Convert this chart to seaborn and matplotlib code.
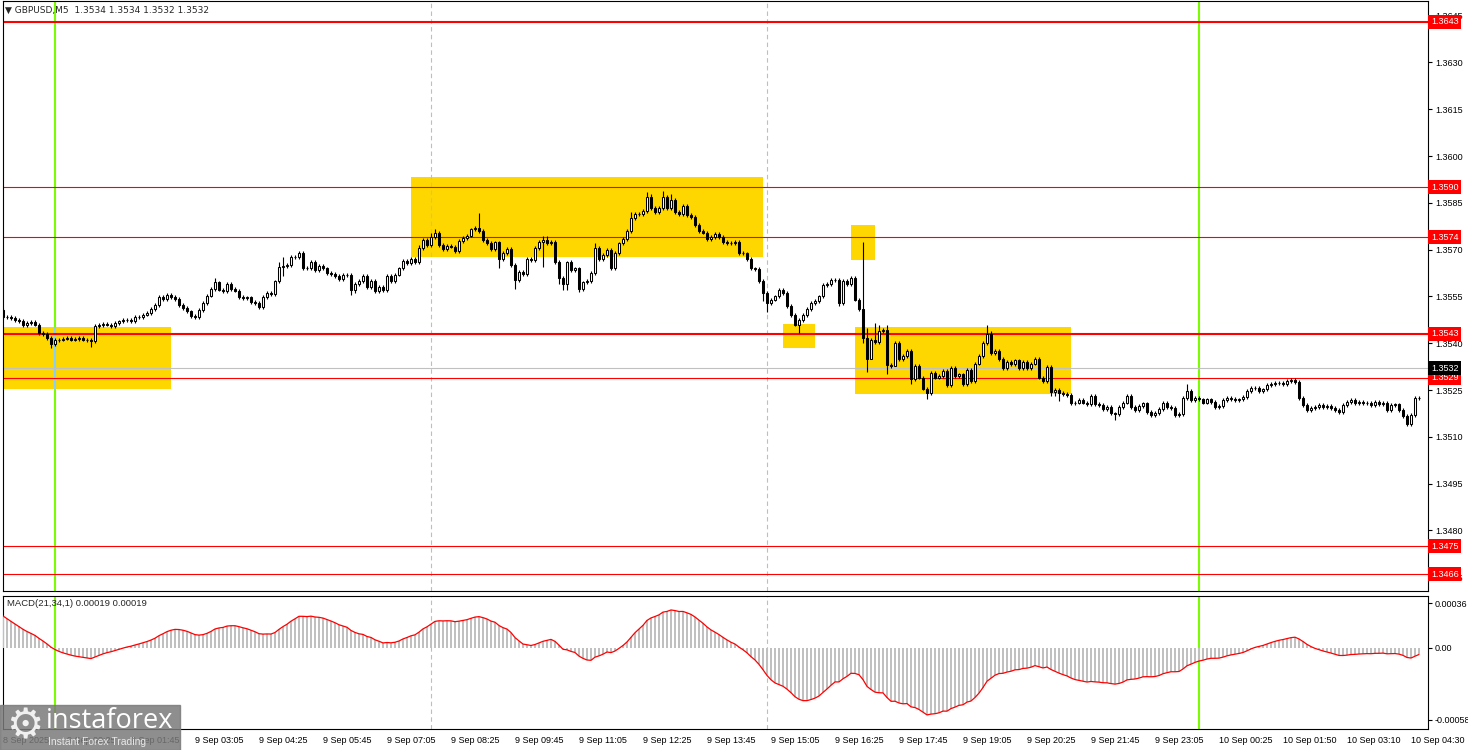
import numpy as np
import matplotlib
matplotlib.use("Agg")
import matplotlib.pyplot as plt
import matplotlib.transforms as mtransforms
from matplotlib.patches import Rectangle
import seaborn as sns

# GBPUSD M5, closes in pips above 1.3500, one per bar
close_pips = [
    48.4, 48.4, 48.0, 47.5, 47.2, 45.9, 46.5, 46.8, 46.0, 43.3,
    43.0, 41.7, 39.8, 41.0, 41.2, 41.5, 41.8, 41.2, 41.3, 41.6,
    41.2, 41.0, 40.6, 45.6, 45.9, 46.3, 46.0, 45.6, 46.4, 47.0,
    47.4, 47.5, 47.2, 48.4, 48.5, 49.2, 49.8, 50.9, 52.3, 54.8,
    54.3, 55.6, 54.8, 54.2, 52.3, 51.2, 50.2, 48.8, 48.3, 50.7,
    53.0, 55.3, 57.4, 59.5, 57.2, 56.6, 59.0, 57.3, 56.9, 54.9,
    54.4, 54.7, 53.3, 53.0, 51.6, 54.8, 56.2, 55.8, 59.8, 64.4,
    64.8, 65.0, 67.8, 67.5, 69.0, 64.2, 64.0, 66.0, 63.5, 64.8,
    64.0, 62.5, 62.2, 61.6, 60.5, 62.0, 61.8, 57.0, 59.0, 60.0,
    61.5, 58.0, 60.0, 56.6, 58.0, 57.0, 61.5, 60.0, 62.0, 64.0,
    66.4, 65.7, 66.9, 66.0, 70.5, 73.0, 71.5, 74.0, 75.2, 71.5,
    70.2, 71.2, 71.0, 69.5, 72.8, 73.8, 74.5, 76.5, 77.0, 76.0,
    73.0, 72.2, 70.3, 72.3, 67.0, 69.0, 70.2, 65.0, 60.3, 62.8,
    62.2, 67.0, 66.7, 70.5, 72.5, 73.0, 72.0, 72.6, 66.0, 61.0,
    59.0, 66.0, 63.5, 64.0, 57.5, 59.5, 60.0, 62.5, 70.5, 67.0,
    68.2, 70.0, 64.0, 69.0, 72.0, 73.5, 76.0, 80.0, 81.5, 81.3,
    82.5, 87.0, 83.4, 82.0, 83.4, 87.0, 83.4, 86.0, 82.0, 81.5,
    84.0, 81.0, 80.5, 78.0, 76.0, 75.5, 73.5, 74.0, 75.0, 74.0,
    72.5, 72.2, 72.0, 72.5, 69.0, 68.8, 67.0, 64.0, 63.8, 60.0,
    56.0, 53.0, 54.0, 55.0, 57.0, 56.0, 52.0, 49.0, 46.0, 47.5,
    49.0, 51.0, 53.0, 53.5, 55.0, 58.7, 58.9, 60.3, 60.2, 53.0,
    60.0, 59.0, 61.0, 54.0, 51.0, 41.6, 35.0, 41.0, 40.5, 44.0,
    44.2, 33.0, 32.8, 40.0, 35.0, 36.0, 37.5, 28.6, 32.7, 29.0,
    25.5, 24.0, 30.5, 29.0, 29.5, 31.0, 26.5, 32.0, 29.5, 30.0,
    27.0, 31.5, 28.0, 33.5, 36.0, 40.0, 43.0, 37.0, 37.5, 35.0,
    32.0, 34.0, 33.2, 34.5, 32.0, 34.0, 32.0, 33.5, 35.0, 29.0,
    28.0, 32.5, 24.5, 25.0, 24.0, 23.8, 23.5, 20.8, 21.0, 21.9,
    21.0, 20.5, 23.0, 20.5, 20.3, 19.0, 19.5, 17.5, 17.3, 19.5,
    21.0, 23.0, 19.5, 18.7, 19.8, 20.7, 18.0, 17.0, 17.6, 19.0,
    21.0, 19.5, 19.2, 17.0, 17.4, 22.5, 24.8, 21.8, 22.6, 22.0,
    21.0, 22.0, 21.2, 19.6, 19.8, 21.8, 22.6, 22.2, 21.9, 22.0,
    22.8, 24.8, 25.8, 25.6, 24.7, 25.2, 26.7, 27.0, 27.2, 27.3,
    27.0, 27.8, 28.3, 27.5, 22.5, 20.2, 18.6, 19.2, 19.5, 20.2,
    19.5, 19.8, 19.2, 18.6, 18.0, 20.2, 21.2, 21.8, 20.8, 21.2,
    20.8, 21.0, 20.2, 21.2, 20.5, 20.8, 18.6, 20.2, 20.4, 18.6,
    16.7, 14.1, 17.0, 22.4, 22.6,
]
first_open = 50.7
# long wicks (bar -> pips above 1.3500)
high_pips = {53: 61.0, 69: 66.0, 70: 67.5, 104: 71.5, 107: 75.5, 108: 76.5,
             109: 76.0, 119: 81.8, 135: 74.5, 136: 74.5, 141: 66.5, 148: 72.0,
             157: 82.0, 161: 88.5, 162: 88.0, 165: 88.8, 167: 88.0, 215: 72.5,
             216: 45.0, 218: 46.5, 219: 46.0, 221: 46.0, 246: 46.0, 247: 44.0,
             296: 27.0}
low_pips = {12: 38.5, 22: 38.8, 70: 61.5, 87: 55.5, 88: 56.0, 124: 64.0,
            128: 57.5, 135: 64.5, 139: 59.0, 140: 57.0, 141: 57.0, 144: 56.5,
            190: 53.5, 191: 50.0, 199: 43.3, 209: 52.0, 215: 40.0, 216: 30.8,
            217: 37.0, 221: 30.0, 223: 33.0, 227: 27.0, 231: 22.0, 232: 23.5,
            262: 23.0, 263: 23.0, 264: 21.5, 278: 15.5, 351: 13.5}

xtick_labels = ["8 Sep 2025", "9 Sep 00:25", "9 Sep 01:45", "9 Sep 03:05", "9 Sep 04:25",
                "9 Sep 05:45", "9 Sep 07:05", "9 Sep 08:25", "9 Sep 09:45", "9 Sep 11:05",
                "9 Sep 12:25", "9 Sep 13:45", "9 Sep 15:05", "9 Sep 16:25", "9 Sep 17:45",
                "9 Sep 19:05", "9 Sep 20:25", "9 Sep 21:45", "9 Sep 23:05", "10 Sep 00:25",
                "10 Sep 01:50", "10 Sep 03:10", "10 Sep 04:30"]
price_ticks = [1.3465, 1.3480, 1.3495, 1.3510, 1.3525, 1.3540, 1.3555,
               1.3570, 1.3585, 1.3600, 1.3615, 1.3630, 1.3645]
levels = [1.3643, 1.3590, 1.3574, 1.3543, 1.3529, 1.3475, 1.3466]
bid_price = 1.3532
# yellow zones: bar from, bar to, price low, price high
zones = [(-0.1, 41.9, 1.35253, 1.35453),
         (102.0, 189.9, 1.35678, 1.35932),
         (194.9, 203.0, 1.35386, 1.35462),
         (211.9, 218.0, 1.35667, 1.35779),
         (213.0, 266.9, 1.35237, 1.35453)]
green_bars = [13, 299]
dashed_bars = [107, 191]
macd_seed = (1.35508, 1.35480)   # EMA21 / EMA34 before the first bar
macd_ticks = [0.00036, 0.0, -0.00058]
macd_tick_labels = ["0.00036", "0.00", "-0.00058"]

# ---- candles
c = np.array(close_pips)
o = np.r_[first_open, c[:-1]]
hi = np.maximum(o, c) + 0.6
lo = np.minimum(o, c) - 0.6
for k, v in high_pips.items():
    hi[k] = v
for k, v in low_pips.items():
    lo[k] = v
c, o, hi, lo = [1.35 + a / 1e4 for a in (c, o, hi, lo)]
idx = np.arange(len(c))

# ---- MACD(21,34,1)
e21, e34 = macd_seed
macd = []
for p in c:
    e21 += 2 / 22 * (p - e21)
    e34 += 2 / 35 * (p - e34)
    macd.append(e21 - e34)
macd = np.array(macd)

sns.set_style("white")
plt.rcParams["font.family"] = ["Liberation Sans", "DejaVu Sans"]

W, H = 1468, 750
fig = plt.figure(figsize=(W / 100, H / 100), dpi=100)
ax = fig.add_axes([2.5 / W, 1 - 591 / H, 1425.5 / W, 590 / H])
axm = fig.add_axes([2.5 / W, 1 - 729 / H, 1425.5 / W, 133 / H], sharex=ax)

for a in (ax, axm):
    for s in a.spines.values():
        s.set_color("black")
        s.set_linewidth(0.8)
    a.set_facecolor("white")

# zones
for x0, x1, p0, p1 in zones:
    ax.add_patch(Rectangle((x0, p0), x1 - x0, p1 - p0, color="#ffd700", lw=0, zorder=1))

# vertical lines
for b in dashed_bars:
    for a in (ax, axm):
        a.axvline(b, color="#b4c8a8", ls=(0, (4, 3)), lw=0.8, zorder=2)
for b in green_bars:
    for a in (ax, axm):
        a.axvline(b, color="#7cfc00", lw=1.5, zorder=2)
ax.vlines(green_bars[0], zones[0][2], zones[0][3], color="#87cefa", lw=1.5, zorder=2)

# levels
for lv in levels:
    ax.axhline(lv, color="red", lw=1.5 if lv in (1.3643, 1.3543) else 0.8, zorder=2)
ax.axhline(bid_price, color="#c0c0c0", lw=0.8, zorder=2)

# candles
bull = c >= o
ax.vlines(idx, lo, hi, color="black", lw=0.8, zorder=3)
body = np.where(np.abs(c - o) < 1e-6, 1e-6, c - o)
ax.bar(idx[bull], body[bull], bottom=o[bull], width=0.7, color="white",
       edgecolor="black", lw=0.75, zorder=4)
ax.bar(idx[~bull], body[~bull], bottom=o[~bull], width=0.7, color="black",
       edgecolor="black", lw=0.75, zorder=4)

ax.set_xlim(-0.125, 356.25)
ax.set_ylim(1.34606, 1.36497)
ax.yaxis.tick_right()
ax.set_yticks(price_ticks)
ax.set_yticklabels([f"{t:.4f}" for t in price_ticks])
ax.tick_params(axis="y", length=3, width=0.8, labelsize=6.5, pad=2, colors="black")
ax.tick_params(axis="x", bottom=False, labelbottom=False)

# price tags on the right scale
tr = mtransforms.blended_transform_factory(fig.transFigure, ax.transData)
for lv in levels:
    ax.text(1431 / W, lv, f"{lv:.4f}", transform=tr, ha="left", va="center",
            fontsize=6.5, color="white", zorder=10, clip_on=False,
            bbox=dict(boxstyle="square,pad=0.28", fc="red", ec="none"))
ax.text(1431 / W, bid_price, f"{bid_price:.4f}", transform=tr, ha="left", va="center",
        fontsize=6.5, color="white", zorder=11, clip_on=False,
        bbox=dict(boxstyle="square,pad=0.28", fc="black", ec="none"))

# MACD panel
axm.bar(idx, macd, width=0.55, color="#c0c0c0", lw=0, zorder=3)
sns.lineplot(x=idx, y=macd, ax=axm, color="red", lw=0.9, zorder=4)
axm.set_ylim(-0.000655, 0.000417)
axm.yaxis.tick_right()
axm.set_yticks(macd_ticks)
axm.set_yticklabels(macd_tick_labels)
axm.tick_params(axis="y", length=3, width=0.8, labelsize=6.5, pad=2, colors="black")
axm.set_xticks(np.arange(0, 16 * len(xtick_labels), 16))
axm.set_xticklabels(xtick_labels, ha="left")
axm.tick_params(axis="x", length=4, width=0.8, labelsize=6.5, pad=1, colors="black")
axm.set_xlabel("")
axm.set_ylabel("")

fig.text(5 / W, 1 - 10 / H, "\u25bc GBPUSD,M5  1.3534 1.3534 1.3532 1.3532",
         fontsize=6.5, va="center", family=["DejaVu Sans"])
fig.text(7 / W, 1 - 604 / H, "MACD(21,34,1) 0.00019 0.00019", fontsize=6.8, va="center")

# watermark
fig.patches.append(Rectangle((0, 0), 180 / W, 45 / H, transform=fig.transFigure,
                             color="#7a7a7a", alpha=0.85, zorder=20))
fig.text(25 / W, 1 - 726 / H, "\u2699", fontsize=30, color="#f0f0f0", ha="center",
         va="center", family=["DejaVu Sans"], zorder=21)
fig.text(46 / W, 1 - 721 / H, "instaforex", fontsize=19.5, color="white", va="center",
         family=["Open Sans"], zorder=21)
fig.text(48 / W, 1 - 742 / H, "Instant Forex Trading", fontsize=7.5, color="#e8e8e8",
         va="center", zorder=21)

fig.savefig("out.png", dpi=100, facecolor="white")
